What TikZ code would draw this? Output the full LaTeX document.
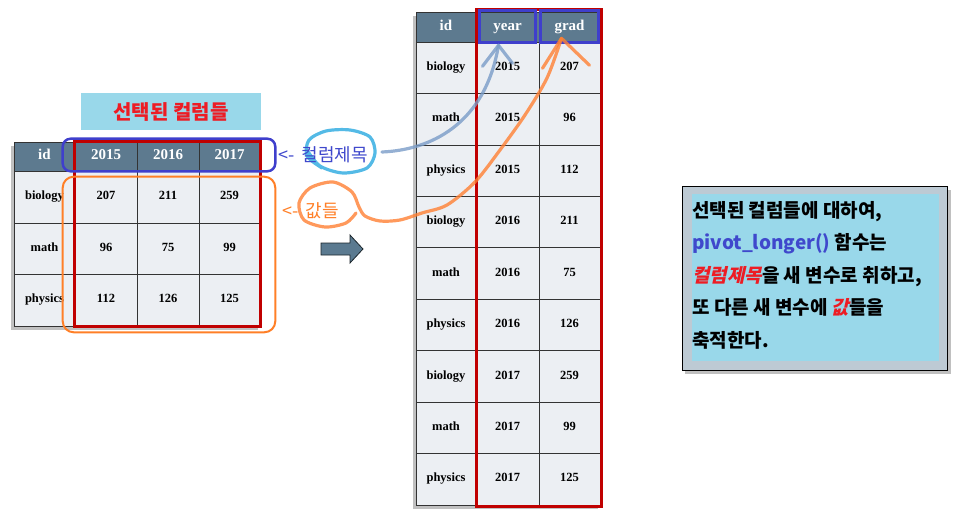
\documentclass[tikz,border=0pt]{standalone}
\usepackage{fontspec}
\setmainfont{Liberation Serif}
\newfontfamily\kr{Noto Sans CJK KR}
\newfontfamily\kri{Noto Sans CJK KR}[FakeSlant=0.22]
\usetikzlibrary{calc}
\definecolor{hdr}{HTML}{5D7A8F}
\definecolor{cellbg}{HTML}{ECEFF3}
\definecolor{rboxc}{HTML}{C00000}
\definecolor{bboxc}{HTML}{3F3FCC}
\definecolor{oboxc}{HTML}{FF7F27}
\definecolor{cyanbg}{HTML}{99D8EA}
\definecolor{titred}{HTML}{ED1C24}
\definecolor{lblblue}{HTML}{3F48CC}
\definecolor{scrcyan}{HTML}{29A9E0}
\definecolor{scrblue}{HTML}{7A9CC8}
\definecolor{scrorange}{HTML}{FF8033}
\definecolor{arrfill}{HTML}{5B7A90}
\definecolor{outerbg}{HTML}{BDCAD4}
\tikzset{
  hcell/.style={draw=black!80, line width=0.6, fill=hdr, text=white, inner sep=0,
    text height=10, text depth=3.5,
    font=\fontsize{15}{17}\selectfont\bfseries},
  bcell/.style={draw=black!80, line width=0.6, fill=cellbg, text=black, inner sep=0,
    text height=8.5, text depth=3,
    font=\fontsize{12.5}{14}\selectfont\bfseries},
  shade/.style={fill=black!45, opacity=0.55},
  redbox/.style={draw=rboxc, line width=3.5},
  scribble/.style={line width=3.2, opacity=0.8, line cap=round, line join=round},
}
\begin{document}
\begin{tikzpicture}[x=1pt,y=-1pt]
\useasboundingbox (0,0) rectangle (962,522);

% ---------- left table ----------
\fill[shade] (11,146) rectangle (258,330);
\foreach \c/\xa/\xb/\t in {0/14/75/id,1/75/137/2015,2/137/199/2016,3/199/260/2017}
  \node[hcell, minimum width={\xb-\xa}, minimum height=29] (L-0-\c) at ({(\xa+\xb)/2},156.5) {\t};
\foreach \r/\ya/\yb/\a/\b/\cc/\d in {1/171/223/biology/207/211/259,2/223/274/math/96/75/99,3/274/326/physics/112/126/125}{
  \node[bcell, minimum width=61, minimum height={\yb-\ya}] (L-\r-0) at (44.5,{(\ya+\yb)/2}) {\a};
  \node[bcell, minimum width=62, minimum height={\yb-\ya}] (L-\r-1) at (106,{(\ya+\yb)/2}) {\b};
  \node[bcell, minimum width=62, minimum height={\yb-\ya}] (L-\r-2) at (168,{(\ya+\yb)/2}) {\cc};
  \node[bcell, minimum width=61, minimum height={\yb-\ya}] (L-\r-3) at (229.5,{(\ya+\yb)/2}) {\d};
}
\draw[redbox] (L-0-1.north west) rectangle (L-3-3.south east);
\draw[draw=bboxc, line width=2.5, rounded corners=8] ($(L-0-1.north west)+(-12,-3)$) rectangle ($(L-0-3.south east)+(15,0)$);
\draw[draw=oboxc, line width=2, rounded corners=11] ($(L-1-1.north west)+(-12,6)$) rectangle ($(L-3-3.south east)+(15,6)$);

% title
\node[fill=cyanbg, minimum width=180, minimum height=37, inner sep=0,
  text=titred, font=\kr\fontsize{20}{22}\selectfont\bfseries] (title) at (171,111.5) {선택된 컬럼들};

% ---------- right table ----------
\fill[shade] (413,16) rectangle (598,509);
\node[hcell, minimum width=60, minimum height=30] (R-0-0) at (446,27) {id};
\node[hcell, minimum width=63, minimum height=30] (R-0-1) at (507.5,27) {year};
\node[hcell, minimum width=61, minimum height=30] (R-0-2) at (569.5,27) {grad};
\foreach \r/\a/\b/\cc in {1/biology/2015/207,2/math/2015/96,3/physics/2015/112,4/biology/2016/211,5/math/2016/75,6/physics/2016/126,7/biology/2017/259,8/math/2017/99,9/physics/2017/125}{
  \pgfmathsetmacro\yc{42+51.44*(\r-0.5)}
  \node[bcell, minimum width=60, minimum height=51.44] (R-\r-0) at (446,\yc) {\a};
  \node[bcell, minimum width=63, minimum height=51.44] (R-\r-1) at (507.5,\yc) {\b};
  \node[bcell, minimum width=61, minimum height=51.44] (R-\r-2) at (569.5,\yc) {\cc};
}
\draw[redbox] ($(R-0-1.north west)+(1,-2)$) rectangle ($(R-9-2.south east)+(1,1)$);
\draw[draw=bboxc, line width=3] ($(R-0-1.north west)+(4,-1)$) rectangle ($(R-0-1.south east)+(-4,0)$);
\draw[draw=bboxc, line width=3] ($(R-0-2.north west)+(2,-1)$) rectangle ($(R-0-2.south east)+(-2,0)$);

% ---------- block arrow ----------
\draw[draw=black!70!arrfill, fill=arrfill, line width=0.8]
  (321,243) -- (350,243) -- (350,235) -- (363,249) -- (350,263) -- (350,255) -- (321,255) -- cycle;

% ---------- scribbles & labels ----------
\draw[scribble, scrcyan] plot[smooth] coordinates {(322,168) (307,156) (309,140) (326,131) (350,130) (370,137) (375,153) (367,168) (343,173) (320,166) (307,150)};

\node[anchor=west, text=lblblue, inner sep=0, font=\kr\fontsize{18}{20}\selectfont] (lblA) at (278,155) {<-\, 컬럼제목};
\node[anchor=west, text=oboxc, inner sep=0, font=\kr\fontsize{18}{20}\selectfont] (lblB) at (282,211) {<-\, 값들};

% connectors
\coordinate (ytip) at ($(R-0-1.south)+(-9,3)$);
\coordinate (gtip) at ($(R-0-2.south)+(-8,-4)$);
\coordinate (astart) at ($(lblA.east)+(14,-3)$);
\draw[scribble, scrblue] (astart) .. controls (430,150) and (485,125) .. (ytip);
\draw[scribble, scrblue] ($(ytip)+(-16,21)$) -- (ytip) -- ($(ytip)+(14,18)$);
\draw[scribble, scrorange] plot[smooth] coordinates {(356,213) (346,223) (325,227) (304,220) (299,203) (310,188) (333,182) (352,192) (359,207) (365,216) (380,221) (400,220) (422,213) (447,205) (475,182) (500,150) (525,115) (547,78) (gtip)};
\draw[scribble, scrorange] ($(gtip)+(-19,30)$) -- (gtip) -- ($(gtip)+(28,27)$);

% ---------- right explanation box ----------
\fill[shade] (685,190) rectangle (951,374);
\draw[fill=outerbg, draw=black, line width=0.8] (682,186) rectangle (947,370);
\fill[cyanbg] (692,194) rectangle (939,361);
\node[anchor=north west, inner sep=0, align=left, text=black,
  font=\kr\fontsize{19}{32.5}\selectfont\bfseries] (expl) at (692,201)
{선택된 컬럼들에 대하여,\\
{\color{lblblue}pivot\_longer()} 함수는\\
{\kri\bfseries\color{titred}컬럼제목}을 새 변수로 취하고,\\
또 다른 새 변수에 {\kri\bfseries\color{titred}값}들을\\
축적한다.};
\end{tikzpicture}
\end{document}
